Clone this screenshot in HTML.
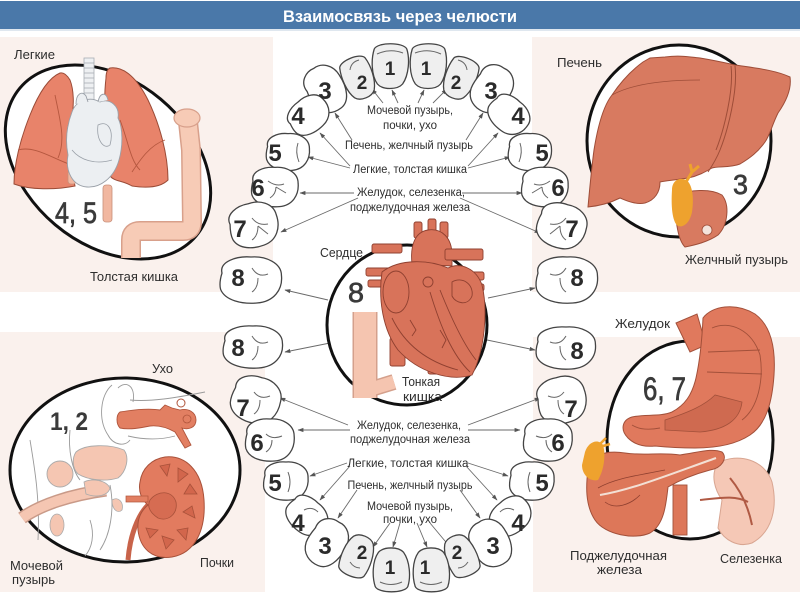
<!DOCTYPE html>
<html><head><meta charset="utf-8">
<style>
html,body{margin:0;padding:0;background:#fff;}
svg{display:block;}
text{font-family:"Liberation Sans Narrow","Liberation Sans",sans-serif;}
.lb{font-size:13px;fill:#2e2e2e;}
.cl{font-size:11.5px;fill:#2e2e2e;}
.tn{font-family:"Liberation Sans",sans-serif;font-weight:bold;fill:#2b2b2b;font-size:24px;}
.ts{font-family:"Liberation Sans",sans-serif;font-weight:bold;fill:#2b2b2b;font-size:19px;}
.bn{fill:#3a3a3a;font-size:30px;stroke:#3a3a3a;stroke-width:0.7;}
.ar line{stroke:#6a6a6a;stroke-width:0.9;marker-end:url(#ah);}
.org{stroke:#9a4b37;stroke-width:1;}
</style></head><body>
<svg width="800" height="603" viewBox="0 0 800 603" xmlns="http://www.w3.org/2000/svg">
<defs>
 <marker id="ah" viewBox="0 0 10 10" refX="9" refY="5" markerWidth="6" markerHeight="6" markerUnits="userSpaceOnUse" orient="auto"><path d="M0,1.5 L10,5 L0,8.5z" fill="#555"/></marker>
 <path id="tm" vector-effect="non-scaling-stroke" d="M-20,-6 C-22,-16 -10,-21 0,-20 C10,-21 21,-15 21,-4 C22,8 16,19 4,20 C-6,21 -18,18 -21,8 C-22,3 -21,-2 -20,-6Z"/>
 <path id="ti" vector-effect="non-scaling-stroke" d="M-15,-17 C-12,-24 13,-24 16,-17 C19,-7 18,9 12,18 C7,24 -7,24 -12,18 C-18,9 -18,-7 -15,-17Z"/>
</defs>

<!-- background -->
<rect x="0" y="0" width="800" height="603" fill="#fff"/>
<rect x="0" y="37" width="273" height="255" fill="#faf1ed"/>
<rect x="532" y="37" width="268" height="255" fill="#faf1ed"/>
<rect x="0" y="332" width="265" height="260" fill="#faf1ed"/>
<rect x="533" y="337" width="267" height="255" fill="#faf1ed"/>

<!-- header -->
<rect x="0" y="1" width="800" height="28" fill="#4a78a9"/>
<rect x="0" y="29" width="800" height="2" fill="#dfe7ef"/>
<text x="400" y="22" text-anchor="middle" textLength="234" lengthAdjust="spacingAndGlyphs" style="font-size:17px;font-weight:bold;fill:#fff;">Взаимосвязь через челюсти</text>

<!-- ============ TOP LEFT: lungs ============ -->
<ellipse cx="108" cy="162" rx="115" ry="82" transform="rotate(40 108 162)" fill="#fff" stroke="#111" stroke-width="3"/>
<rect x="84" y="58" width="10" height="44" fill="#eef0f2" stroke="#a8adb3" stroke-width="0.8"/>
<g stroke="#a8adb3" stroke-width="0.8">
<line x1="84" y1="63" x2="94" y2="63"/><line x1="84" y1="68" x2="94" y2="68"/><line x1="84" y1="73" x2="94" y2="73"/><line x1="84" y1="78" x2="94" y2="78"/><line x1="84" y1="83" x2="94" y2="83"/><line x1="84" y1="88" x2="94" y2="88"/><line x1="84" y1="93" x2="94" y2="93"/>
</g>
<path class="org" fill="#e8836a" d="M60,73 C48,78 38,95 30,115 C20,140 14,165 14,184 C30,190 55,190 75,186 C72,172 70,160 72,150 C66,140 66,125 72,118 C74,105 74,90 70,80 C67,75 64,72 60,73 Z"/>
<path class="org" fill="#e8836a" d="M110,68 C125,66 138,80 148,100 C160,125 168,155 168,180 C160,188 145,188 132,186 C122,180 115,182 110,176 C112,160 114,150 108,140 C104,120 104,95 106,78 C106,72 108,69 110,68 Z"/>
<g fill="none" stroke="#b5573f" stroke-width="0.9">
<path d="M18,150 C35,145 55,160 72,165"/><path d="M55,95 C60,120 66,140 58,158"/><path d="M165,140 C150,145 140,160 132,172"/><path d="M120,120 C128,140 130,160 140,170"/>
</g>
<rect x="68" y="170" width="8" height="14" rx="3" fill="#f1b7a0" stroke="#c8907b" stroke-width="0.8"/>
<rect x="103" y="185" width="9" height="37" rx="3" fill="#f1b7a0" stroke="#c8907b" stroke-width="0.8"/>
<path fill="#eceff2" stroke="#9aa0a8" stroke-width="0.9" d="M72,112 C76,100 90,96 100,102 C110,98 120,106 118,118 C123,128 123,146 119,160 C114,178 100,188 87,187 C73,186 65,172 68,155 C65,140 67,125 72,112 Z"/>
<path fill="#eceff2" stroke="#9aa0a8" stroke-width="0.9" d="M76,104 C76,94 82,90 86,96 L88,102 M98,102 C100,92 106,92 108,100"/>
<path fill="none" stroke="#9aa0a8" stroke-width="0.8" d="M98,125 C108,120 114,130 110,145 C104,150 96,140 98,125 Z M72,150 C80,160 95,165 112,160"/>
<path d="M188,122 L191,150 L192,222 Q192,231 183,231 L140,231 Q131,231 131,240 L131,258" fill="none" stroke="#d8a08b" stroke-width="20" stroke-linejoin="round"/>
<path d="M188,122 L191,150 L192,222 Q192,231 183,231 L140,231 Q131,231 131,240 L131,258" fill="none" stroke="#f7cbb6" stroke-width="17" stroke-linejoin="round"/>
<ellipse cx="187" cy="118" rx="13" ry="9" fill="#f7cbb6" stroke="#d8a08b" stroke-width="1.2"/>
<text class="bn" x="55" y="223" textLength="42" lengthAdjust="spacingAndGlyphs">4, 5</text>
<text class="lb" x="14" y="59" textLength="41" lengthAdjust="spacingAndGlyphs">Легкие</text>
<text class="lb" x="90" y="281" textLength="88" lengthAdjust="spacingAndGlyphs">Толстая кишка</text>

<!-- ============ TOP RIGHT: liver ============ -->
<ellipse cx="679" cy="141" rx="92" ry="96" fill="#fff" stroke="#111" stroke-width="3"/>
<path fill="#d87a60" stroke="#9e4d38" stroke-width="1" d="M675,195 C690,190 710,188 722,195 C730,205 728,225 718,235 C708,242 695,245 685,247 C678,240 675,220 675,195 Z"/>
<circle cx="707" cy="230" r="5" fill="#f4e4dc" stroke="#9e4d38" stroke-width="0.8"/>
<path fill="#d87a60" stroke="#9e4d38" stroke-width="1" d="M588,207 C590,185 592,165 594,150 C598,125 604,105 612,95 C622,80 632,70 643,62 L650,58 L665,57 C680,55 690,57 700,58 C712,60 722,62 735,65 C755,68 775,70 790,77 C792,90 785,103 778,113 C772,125 770,135 765,142 C758,152 750,158 740,164 C730,168 718,166 712,168 C705,172 698,176 688,178 C675,180 665,181 660,182 C660,192 655,200 645,203 C635,205 625,200 620,198 C610,203 598,206 588,207 Z"/>
<path fill="none" stroke="#9e4d38" stroke-width="1" d="M735,66 C738,90 728,130 720,150 C716,160 712,166 708,172 M731,66 C734,90 724,130 716,150"/>
<path fill="none" stroke="#9e4d38" stroke-width="0.8" d="M612,95 C630,85 660,80 700,80"/>
<path fill="#eea22e" d="M672,190 C672,180 680,177 686,180 C693,184 694,200 692,212 C690,222 684,228 678,226 C672,222 671,205 672,190 Z"/>
<path fill="none" stroke="#eea22e" stroke-width="3" d="M686,182 L692,172 L690,164 M692,172 L699,166"/>
<text class="bn" x="733" y="194" style="font-size:28px" textLength="15" lengthAdjust="spacingAndGlyphs">3</text>
<text class="lb" x="557" y="67" textLength="45" lengthAdjust="spacingAndGlyphs">Печень</text>
<text class="lb" x="685" y="264" textLength="103" lengthAdjust="spacingAndGlyphs">Желчный пузырь</text>

<!-- ============ BOTTOM LEFT ============ -->
<ellipse cx="125" cy="470" rx="115" ry="92" fill="#fff" stroke="#111" stroke-width="3"/>
<g fill="none" stroke="#9a9a9a" stroke-width="0.9">
<path d="M112,385 C100,395 98,420 108,435 C113,445 125,447 130,440"/>
<path d="M118,388 C126,380 136,386 133,402"/>
<path d="M130,400 C150,402 175,398 205,392"/>
<path d="M128,436 C145,440 160,440 175,436"/>
<path d="M30,440 C35,470 40,500 38,540"/>
<path d="M70,430 C68,450 72,470 80,480"/>
<path d="M110,485 C115,510 110,535 100,550"/>
<path d="M90,520 C95,535 92,548 85,556"/>
</g>
<path fill="#e27f62" stroke="#b0553c" stroke-width="0.9" d="M120,412 C132,410 148,408 160,410 L165,405 L172,408 L180,410 C188,408 196,412 196,420 C196,428 188,430 182,428 L191,445 L185,448 L175,432 C168,428 160,425 150,426 C140,428 130,430 120,428 C116,424 116,415 120,412 Z"/>
<circle cx="181" cy="403" r="4" fill="none" stroke="#b0553c" stroke-width="1"/>
<circle cx="187" cy="419" r="4" fill="none" stroke="#b0553c" stroke-width="0.8"/>
<path fill="#f5c6b2" stroke="#aaa" stroke-width="0.9" d="M76,452 C85,444 110,444 124,450 C130,458 126,472 118,478 C105,482 88,480 78,474 C72,468 72,458 76,452 Z"/>
<ellipse cx="60" cy="474" rx="13" ry="13" fill="#f5c6b2" stroke="#aaa" stroke-width="0.9"/>
<path d="M22,518 C40,505 70,495 106,490" fill="none" stroke="#c99a88" stroke-width="13"/>
<path d="M22,518 C40,505 70,495 106,490" fill="none" stroke="#f5c6b2" stroke-width="10"/>
<path fill="#f5c6b2" stroke="#aaa" stroke-width="0.8" d="M84,482 C92,478 106,480 110,488 C108,496 96,498 86,494 Z"/>
<path fill="#f5c6b2" stroke="#aaa" stroke-width="0.8" d="M112,500 C118,496 124,502 122,510 C118,514 112,510 112,500 Z"/>
<ellipse cx="57" cy="525" rx="7" ry="11" fill="#f5c6b2" stroke="#aaa" stroke-width="0.8"/>
<path d="M148,505 C138,515 130,535 128,560" fill="none" stroke="#c8634a" stroke-width="5"/>
<path fill="#e27b5f" stroke="#a8513a" stroke-width="1" d="M165,457 C185,455 202,470 204,500 C206,530 195,553 172,557 C152,560 140,548 138,530 C137,518 142,510 148,505 C142,500 138,492 140,482 C142,468 152,459 165,457 Z"/>
<g fill="#d2664c" stroke="#a8513a" stroke-width="0.8">
<path d="M160,466 L170,464 L167,476 Z"/><path d="M178,468 L188,474 L178,482 Z"/><path d="M190,484 L197,494 L184,494 Z"/><path d="M192,506 L195,518 L183,512 Z"/><path d="M188,528 L186,540 L177,530 Z"/><path d="M174,540 L166,549 L162,536 Z"/><path d="M150,538 L146,528 L158,530 Z"/>
</g>
<path fill="#d66c52" stroke="#a8513a" stroke-width="0.8" d="M150,500 C158,490 172,490 176,502 C178,514 168,522 158,518 C152,514 146,508 150,500 Z"/>
<rect x="126" y="496" width="22" height="6" fill="#e27f62" stroke="#b0553c" stroke-width="0.7"/>
<text x="50" y="430" style="font-size:25px;font-weight:bold;fill:#3a3a3a" textLength="38" lengthAdjust="spacingAndGlyphs">1, 2</text>
<text class="lb" x="152" y="373" textLength="21" lengthAdjust="spacingAndGlyphs">Ухо</text>
<text class="lb" x="10" y="570" textLength="53" lengthAdjust="spacingAndGlyphs">Мочевой</text>
<text class="lb" x="12" y="584" textLength="43" lengthAdjust="spacingAndGlyphs">пузырь</text>
<text class="lb" x="200" y="567" textLength="34" lengthAdjust="spacingAndGlyphs">Почки</text>

<!-- ============ BOTTOM RIGHT ============ -->
<ellipse cx="690" cy="440" rx="83" ry="99" fill="#fff" stroke="#111" stroke-width="3"/>
<path fill="#f5c8b6" stroke="#d8a591" stroke-width="1" d="M718,463 C738,452 765,460 772,482 C778,508 772,532 752,543 C738,548 724,540 718,528 L722,500 C715,490 710,475 718,463 Z"/>
<path fill="none" stroke="#b05a44" stroke-width="2" d="M730,478 C740,490 748,505 752,525 M700,500 C720,498 735,495 748,502"/>
<rect x="673" y="485" width="14" height="50" fill="#dd7759" stroke="#a2503a" stroke-width="0.9"/>
<path fill="#dd7759" stroke="#a2503a" stroke-width="1" d="M588,470 C590,455 605,450 625,453 C645,456 660,452 680,455 C700,452 712,448 722,452 C728,458 722,468 710,470 C695,474 680,480 668,487 C666,505 664,525 650,533 C635,540 605,535 595,520 C585,505 586,485 588,470 Z"/>
<path fill="none" stroke="#f3e0d5" stroke-width="2" d="M600,495 C630,490 660,478 716,458"/>
<path fill="none" stroke="#8f4030" stroke-width="0.8" d="M598,488 C615,478 640,475 665,470 M605,502 C615,510 630,505 640,495"/>
<path fill="#eea22e" d="M585,452 C588,442 598,438 603,445 C606,455 604,470 598,480 C590,482 582,475 582,465 Z"/>
<path fill="none" stroke="#eea22e" stroke-width="2.5" d="M598,446 L606,438 M603,446 L610,444"/>
<path fill="#e0795d" stroke="#a2503a" stroke-width="1" d="M676,323 L697,314 L706,345 L690,352 Z"/>
<path fill="#e0795d" stroke="#a2503a" stroke-width="1" d="M703,318 C712,306 735,302 755,314 C770,325 776,345 774,375 C772,405 765,425 750,435 C738,443 720,448 695,448 C680,448 665,447 655,446 C645,447 635,445 628,438 C620,430 622,420 632,417 C645,414 660,417 672,412 C685,405 692,395 696,378 C700,360 702,340 703,318 Z"/>
<path fill="#cf6a50" stroke="#a2503a" stroke-width="0.8" d="M665,420 C690,412 705,405 715,395 L742,402 C740,420 725,430 700,432 L665,430 Z"/>
<g fill="none" stroke="#a2503a" stroke-width="0.9">
<path d="M712,328 C730,320 752,330 760,355 C764,380 758,408 742,420"/>
<path d="M708,352 L760,350"/><path d="M707,372 L762,374"/>
<path d="M632,425 C640,430 650,430 660,428"/>
</g>
<text class="bn" x="643" y="400" style="font-size:32px" textLength="43" lengthAdjust="spacingAndGlyphs">6, 7</text>
<text class="lb" x="615" y="328" textLength="55" lengthAdjust="spacingAndGlyphs">Желудок</text>
<text class="lb" x="570" y="560" textLength="97" lengthAdjust="spacingAndGlyphs">Поджелудочная</text>
<text class="lb" x="597" y="574" textLength="45" lengthAdjust="spacingAndGlyphs">железа</text>
<text class="lb" x="720" y="563" textLength="62" lengthAdjust="spacingAndGlyphs">Селезенка</text>

<!-- ============ CENTER: arrows ============ -->
<g class="ar">
<line x1="383" y1="103" x2="372" y2="89"/>
<line x1="398" y1="103" x2="392" y2="90"/>
<line x1="418" y1="103" x2="424" y2="90"/>
<line x1="433" y1="103" x2="447" y2="89"/>
<line x1="352" y1="140" x2="335" y2="113"/>
<line x1="466" y1="140" x2="483" y2="113"/>
<line x1="350" y1="166" x2="320" y2="133"/>
<line x1="350" y1="168" x2="308" y2="157"/>
<line x1="468" y1="166" x2="498" y2="133"/>
<line x1="468" y1="168" x2="510" y2="157"/>
<line x1="354" y1="193" x2="300" y2="193"/>
<line x1="358" y1="198" x2="281" y2="232"/>
<line x1="462" y1="193" x2="522" y2="193"/>
<line x1="460" y1="198" x2="540" y2="233"/>
<line x1="328" y1="300" x2="285" y2="290"/>
<line x1="488" y1="298" x2="535" y2="288"/>
<line x1="330" y1="343" x2="285" y2="352"/>
<line x1="487" y1="340" x2="535" y2="350"/>
<line x1="348" y1="425" x2="280" y2="398"/>
<line x1="350" y1="430" x2="298" y2="430"/>
<line x1="468" y1="425" x2="540" y2="398"/>
<line x1="468" y1="430" x2="520" y2="430"/>
<line x1="347" y1="463" x2="310" y2="476"/>
<line x1="350" y1="466" x2="320" y2="500"/>
<line x1="468" y1="463" x2="508" y2="476"/>
<line x1="466" y1="466" x2="497" y2="500"/>
<line x1="357" y1="490" x2="338" y2="518"/>
<line x1="460" y1="490" x2="480" y2="518"/>
<line x1="390" y1="523" x2="373" y2="547"/>
<line x1="400" y1="523" x2="393" y2="547"/>
<line x1="417" y1="523" x2="427" y2="547"/>
<line x1="430" y1="523" x2="450" y2="547"/>
</g>

<g class="cl" text-anchor="middle">
<text x="410" y="114" textLength="86" lengthAdjust="spacingAndGlyphs">Мочевой пузырь,</text>
<text x="410" y="129" textLength="54" lengthAdjust="spacingAndGlyphs">почки, ухо</text>
<text x="409" y="149" textLength="128" lengthAdjust="spacingAndGlyphs">Печень, желчный пузырь</text>
<text x="410" y="173" textLength="114" lengthAdjust="spacingAndGlyphs">Легкие, толстая кишка</text>
<text x="411" y="196" textLength="108" lengthAdjust="spacingAndGlyphs">Желудок, селезенка,</text>
<text x="410" y="211" textLength="120" lengthAdjust="spacingAndGlyphs">поджелудочная железа</text>
<text x="409" y="429" textLength="104" lengthAdjust="spacingAndGlyphs">Желудок, селезенка,</text>
<text x="410" y="443" textLength="120" lengthAdjust="spacingAndGlyphs">поджелудочная железа</text>
<text x="408" y="467" textLength="121" lengthAdjust="spacingAndGlyphs">Легкие, толстая кишка</text>
<text x="410" y="489" textLength="125" lengthAdjust="spacingAndGlyphs">Печень, желчный пузырь</text>
<text x="410" y="510" textLength="86" lengthAdjust="spacingAndGlyphs">Мочевой пузырь,</text>
<text x="410" y="523" textLength="54" lengthAdjust="spacingAndGlyphs">почки, ухо</text>
</g>

<!-- ============ heart circle ============ -->
<circle cx="407" cy="325" r="80" fill="#fff" stroke="#111" stroke-width="3"/>
<path d="M365,312 L365,398" fill="none" stroke="#d4a08c" stroke-width="25"/>
<path d="M368,390 L394,382" fill="none" stroke="#d4a08c" stroke-width="16"/>
<path d="M365,312 L365,398" fill="none" stroke="#f5c5b0" stroke-width="22"/>
<path d="M368,390 L394,382" fill="none" stroke="#f5c5b0" stroke-width="13"/>
<g fill="#d8735a" stroke="#8f4030" stroke-width="0.9">
<rect x="372" y="244" width="30" height="9" rx="2"/>
<rect x="366" y="268" width="26" height="8" rx="2"/>
<rect x="368" y="280" width="24" height="7" rx="2"/>
<rect x="414" y="222" width="8" height="16" rx="2"/>
<rect x="428" y="219" width="8" height="16" rx="2"/>
<rect x="440" y="222" width="8" height="16" rx="2"/>
<path d="M412,264 C410,245 415,232 428,230 C442,228 452,238 452,255 L452,266 Z"/>
<rect x="445" y="249" width="38" height="11" rx="2"/>
<rect x="470" y="272" width="14" height="8" rx="2"/>
<rect x="472" y="284" width="12" height="7" rx="2"/>
<rect x="390" y="338" width="15" height="28" rx="2"/>
<rect x="428" y="354" width="18" height="20" rx="2"/>
<path d="M382,272 C378,300 383,330 398,350 C418,372 450,382 472,375 C485,350 488,310 482,285 C476,268 460,262 448,268 C430,260 400,258 382,272 Z"/>
</g>
<g fill="none" stroke="#8f4030" stroke-width="0.9">
<ellipse cx="396" cy="292" rx="13" ry="21"/>
<path d="M430,292 C440,325 452,355 470,372"/>
<path d="M440,290 C452,320 464,345 476,360"/>
<path d="M392,318 C405,345 428,362 458,370"/>
<path d="M452,282 C462,276 474,284 472,296 C468,306 456,304 452,296 Z"/>
<circle cx="428" cy="282" r="5"/>
<path d="M410,320 L416,330 L412,336 M440,330 L446,340 L442,348"/>
</g>
<text class="bn" x="348" y="302" style="font-size:28px" textLength="16" lengthAdjust="spacingAndGlyphs">8</text>
<text class="lb" x="320" y="257" textLength="43" lengthAdjust="spacingAndGlyphs">Сердце</text>
<text class="lb" x="402" y="386" textLength="38" lengthAdjust="spacingAndGlyphs">Тонкая</text>
<text class="lb" x="403" y="401" textLength="39" lengthAdjust="spacingAndGlyphs">кишка</text>

<!-- ============ teeth ============ -->
<g stroke="#444" stroke-width="1.3">
<use href="#ti" fill="#efefef" transform="translate(390,66) scale(1.05,1)"/>
<use href="#ti" fill="#efefef" transform="translate(428,66) scale(1.05,1)"/>
<use href="#ti" fill="#efefef" transform="translate(358,78) rotate(-22) scale(0.88,0.95)"/>
<use href="#ti" fill="#efefef" transform="translate(460,78) rotate(22) scale(0.88,0.95)"/>
<use href="#tm" fill="#fff" transform="translate(326,89) rotate(-30) scale(0.88,1.2)"/>
<use href="#tm" fill="#fff" transform="translate(492,89) rotate(30) scale(0.88,1.2)"/>
<use href="#tm" fill="#fff" transform="translate(309,115) rotate(-40) scale(1,0.85)"/>
<use href="#tm" fill="#fff" transform="translate(509,115) rotate(40) scale(1,0.85)"/>
<use href="#tm" fill="#fff" transform="translate(288,152) scale(1.02,0.92)"/>
<use href="#tm" fill="#fff" transform="translate(530,152) scale(1.02,0.92)"/>
<use href="#tm" fill="#fff" transform="translate(275,187) scale(1.1,0.98)"/>
<use href="#tm" fill="#fff" transform="translate(545,187) scale(1.1,0.98)"/>
<use href="#tm" fill="#fff" transform="translate(254,225) rotate(-15) scale(1.15,1.1)"/>
<use href="#tm" fill="#fff" transform="translate(562,226) rotate(15) scale(1.15,1.1)"/>
<use href="#tm" fill="#fff" transform="translate(251,280) scale(1.45,1.15)"/>
<use href="#tm" fill="#fff" transform="translate(567,280) scale(1.45,1.15)"/>
<use href="#tm" fill="#fff" transform="translate(253,347) scale(1.4,1.05)"/>
<use href="#tm" fill="#fff" transform="translate(566,348) scale(1.4,1.05)"/>
<use href="#tm" fill="#fff" transform="translate(256,400) rotate(15) scale(1.15,1.15)"/>
<use href="#tm" fill="#fff" transform="translate(562,400) rotate(-15) scale(1.15,1.15)"/>
<use href="#tm" fill="#fff" transform="translate(270,440) scale(1.15,1.05)"/>
<use href="#tm" fill="#fff" transform="translate(548,440) scale(1.15,1.05)"/>
<use href="#tm" fill="#fff" transform="translate(286,481) scale(1.05,0.95)"/>
<use href="#tm" fill="#fff" transform="translate(532,481) scale(1.05,0.95)"/>
<use href="#tm" fill="#fff" transform="translate(307,516) rotate(40) scale(1,0.85)"/>
<use href="#tm" fill="#fff" transform="translate(511,516) rotate(-40) scale(1,0.85)"/>
<use href="#tm" fill="#fff" transform="translate(327,543) rotate(30) scale(0.88,1.2)"/>
<use href="#tm" fill="#fff" transform="translate(491,543) rotate(-30) scale(0.88,1.2)"/>
<use href="#ti" fill="#efefef" transform="translate(357,556) rotate(22) scale(0.88,-0.95)"/>
<use href="#ti" fill="#efefef" transform="translate(461,556) rotate(-22) scale(0.88,-0.95)"/>
<use href="#ti" fill="#efefef" transform="translate(391,570) scale(1.05,-0.98)"/>
<use href="#ti" fill="#efefef" transform="translate(431,570) scale(1.05,-0.98)"/>
</g>
<g fill="none" stroke="#666" stroke-width="1">
<path d="M377,54 Q390,48 403,53"/><path d="M415,53 Q428,48 441,54"/>
<path d="M350,70 Q351,62 359,60"/><path d="M467,70 Q466,62 458,60"/>
<path d="M298,143 Q295,152 299,162"/><path d="M520,143 Q523,152 519,162"/>
<path d="M268,181 Q276,187 284,184 M276,187 Q276,194 270,198 M276,187 L286,193"/>
<path d="M550,181 Q542,187 534,184 M542,187 Q542,194 548,198 M542,187 L532,193"/>
<path d="M252,218 Q258,226 268,224 M258,226 Q258,236 252,240 M258,226 L268,234"/>
<path d="M566,218 Q560,226 550,224 M560,226 Q560,236 566,240 M560,226 L550,234"/>
<path d="M252,268 Q258,278 268,274 M258,278 Q258,288 252,292"/>
<path d="M566,268 Q560,278 550,274 M560,278 Q560,288 566,292"/>
<path d="M252,336 Q258,346 268,342 M258,346 Q258,356 252,360"/>
<path d="M566,336 Q560,346 550,342 M560,346 Q560,356 566,360"/>
<path d="M254,392 Q260,400 270,396 M260,400 Q260,410 254,414"/>
<path d="M564,392 Q558,400 548,396 M558,400 Q558,410 564,414"/>
<path d="M266,434 Q272,440 282,436 M272,440 Q272,448 266,452"/>
<path d="M552,434 Q546,440 536,436 M546,440 Q546,448 552,452"/>
<path d="M288,472 Q292,482 288,492"/><path d="M530,472 Q526,482 530,492"/>
<path d="M304,510 Q312,506 318,512"/><path d="M514,510 Q506,506 500,512"/>
<path d="M350,562 Q354,568 360,568"/><path d="M468,562 Q464,568 458,568"/>
<path d="M380,582 Q391,587 402,582"/><path d="M420,582 Q431,587 442,582"/>
</g>
<g text-anchor="middle">
<text class="ts" x="390" y="75">1</text>
<text class="ts" x="426" y="75">1</text>
<text class="ts" x="362" y="89">2</text>
<text class="ts" x="456" y="89">2</text>
<text class="tn" x="325" y="99">3</text>
<text class="tn" x="491" y="99">3</text>
<text class="tn" x="298" y="124">4</text>
<text class="tn" x="518" y="124">4</text>
<text class="tn" x="275" y="161">5</text>
<text class="tn" x="542" y="161">5</text>
<text class="tn" x="258" y="196">6</text>
<text class="tn" x="558" y="196">6</text>
<text class="tn" x="240" y="237">7</text>
<text class="tn" x="572" y="237">7</text>
<text class="tn" x="238" y="286">8</text>
<text class="tn" x="577" y="286">8</text>
<text class="tn" x="238" y="356">8</text>
<text class="tn" x="577" y="359">8</text>
<text class="tn" x="243" y="416">7</text>
<text class="tn" x="571" y="417">7</text>
<text class="tn" x="257" y="451">6</text>
<text class="tn" x="558" y="451">6</text>
<text class="tn" x="275" y="491">5</text>
<text class="tn" x="542" y="491">5</text>
<text class="tn" x="298" y="531">4</text>
<text class="tn" x="518" y="531">4</text>
<text class="tn" x="325" y="554">3</text>
<text class="tn" x="493" y="554">3</text>
<text class="ts" x="362" y="559">2</text>
<text class="ts" x="457" y="559">2</text>
<text class="ts" x="390" y="574">1</text>
<text class="ts" x="425" y="574">1</text>
</g>
</svg>
</body></html>
